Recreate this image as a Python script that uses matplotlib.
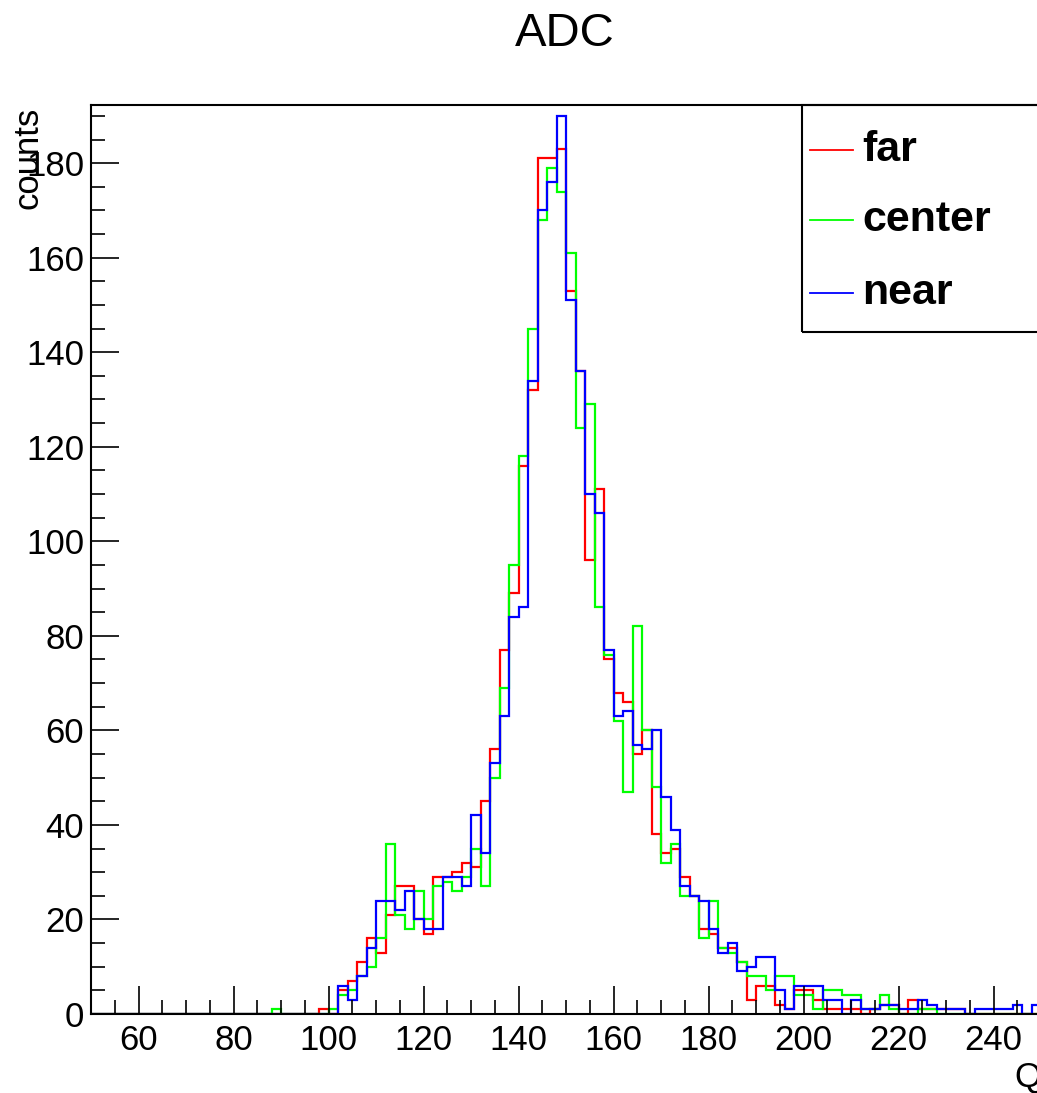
import numpy as np
import matplotlib.pyplot as plt
from matplotlib.patches import Rectangle
from matplotlib.lines import Line2D
from matplotlib.ticker import MultipleLocator

plt.rcParams['font.family'] = ['Liberation Sans', 'DejaVu Sans']

# bin edges: 100 bins of width 2 from 50 to 250
edges = np.arange(50, 252, 2)

# counts per bin, one row = 10 bins (50-68, 70-88, ..., 230-248)
far = [0, 0, 0, 0, 0, 0, 0, 0, 0, 0,
       0, 0, 0, 0, 0, 0, 0, 0, 0, 0,
       0, 0, 0, 0, 1, 0, 5, 7, 11, 16,
       13, 21, 27, 27, 20, 17, 29, 29, 30, 32,
       31, 45, 56, 77, 89, 116, 132, 181, 181, 183,
       153, 136, 96, 111, 75, 68, 66, 55, 60, 38,
       34, 35, 29, 25, 18, 17, 14, 14, 11, 3,
       6, 6, 2, 1, 5, 5, 3, 1, 1, 1,
       1, 0, 1, 2, 2, 0, 3, 1, 1, 1,
       1, 1, 0, 0, 0, 0, 0, 0, 0, 0]

center = [0, 0, 0, 0, 0, 0, 0, 0, 0, 0,
          0, 0, 0, 0, 0, 0, 0, 0, 0, 1,
          0, 0, 0, 0, 0, 1, 4, 5, 8, 10,
          16, 36, 21, 18, 26, 20, 27, 28, 26, 29,
          35, 27, 50, 69, 95, 118, 145, 168, 179, 174,
          161, 124, 129, 86, 76, 62, 47, 82, 60, 48,
          32, 36, 25, 25, 16, 24, 14, 13, 11, 8,
          8, 5, 8, 8, 4, 4, 1, 5, 5, 4,
          4, 1, 1, 4, 1, 0, 0, 1, 1, 0,
          0, 0, 0, 0, 0, 0, 0, 0, 0, 0]

near = [0, 0, 0, 0, 0, 0, 0, 0, 0, 0,
        0, 0, 0, 0, 0, 0, 0, 0, 0, 0,
        0, 0, 0, 0, 0, 0, 6, 3, 8, 14,
        24, 24, 22, 26, 20, 18, 18, 29, 29, 27,
        42, 34, 53, 63, 84, 86, 134, 170, 176, 190,
        151, 136, 110, 106, 77, 63, 64, 57, 56, 60,
        46, 39, 27, 25, 24, 18, 13, 15, 9, 10,
        12, 12, 5, 1, 6, 6, 6, 3, 3, 0,
        3, 1, 1, 2, 2, 1, 1, 3, 2, 1,
        1, 1, 0, 1, 1, 1, 1, 2, 0, 2]

labels = ['far', 'center', 'near']
colors = ['#ff0000', '#00ff00', '#0000ff']

W, H = 1037, 1093
fig = plt.figure(figsize=(W / 100, H / 100), dpi=100)
ax = fig.add_axes([91 / W, 1 - 1014 / H, 950 / W, 909 / H])

for vals, c in zip([far, center, near], colors):
    ax.stairs(vals, edges, color=c, lw=1.6, baseline=None)

ax.set_xlim(50, 250)
ax.set_ylim(0, 192.3)
ax.xaxis.set_major_locator(MultipleLocator(20))
ax.xaxis.set_minor_locator(MultipleLocator(5))
ax.yaxis.set_major_locator(MultipleLocator(20))
ax.yaxis.set_minor_locator(MultipleLocator(5))
ax.set_xticks(np.arange(60, 241, 20))
ax.tick_params(which='both', direction='in', top=False, right=False, width=1.2)
ax.tick_params(which='major', length=20, labelsize=25)
ax.tick_params(which='minor', length=10)
ax.tick_params(axis='x', pad=7)
ax.tick_params(axis='y', pad=5)
for s in ax.spines.values():
    s.set_linewidth(1.5)

# legend box, as drawn by ROOT
ax.add_patch(Rectangle((0.748, 0.750), 0.252, 0.250, transform=ax.transAxes,
                       fill=False, ec='black', lw=1.5, clip_on=False))
for lab, c, yy in zip(labels, colors, [0.950, 0.873, 0.793]):
    ax.add_line(Line2D([0.757, 0.802], [yy, yy], transform=ax.transAxes,
                       color=c, lw=1.3, clip_on=False))
    ax.text(0.8116, yy, lab, transform=ax.transAxes, fontsize=31,
            fontweight='bold', va='center', ha='left')

fig.text(565 / W, 1 - 34 / H, 'ADC', ha='center', va='center', fontsize=34)
fig.text(28 / W, 1 - 107 / H, 'counts', rotation=90, ha='center', va='top',
         fontsize=25)
fig.text(1041 / W, 1 - 1077 / H, 'Q', ha='right', va='center', fontsize=25)

fig.savefig('out.png', dpi=100)
